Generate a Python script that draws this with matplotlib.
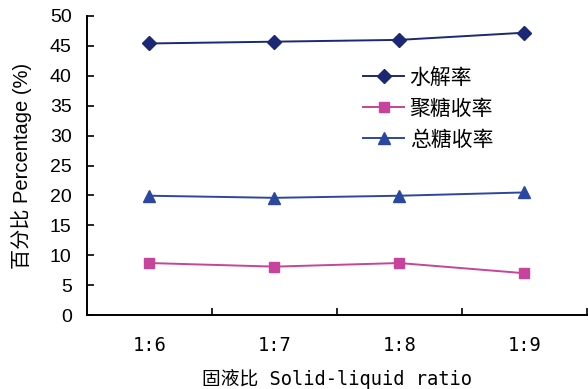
import matplotlib.pyplot as plt
import numpy as np

# 数据
categories = ['1:6', '1:7', '1:8', '1:9']
hydrolysis = [45.4, 45.7, 46.0, 47.2]
polysaccharide = [8.7, 8.1, 8.7, 7.0]
total_sugar = [19.95, 19.6, 19.95, 20.5]
series_names = ['水解率', '聚糖收率', '总糖收率']

cjk = 'Noto Sans CJK SC'
sans = ['Liberation Sans', cjk]
mono = ['DejaVu Sans Mono', cjk]

fig = plt.figure(figsize=(5.88, 3.89), dpi=100)
ax = fig.add_axes([0.148, 0.19, 0.85, 0.769])

x = np.arange(1, len(categories) + 1)
ax.plot(x, hydrolysis, color='#1c2873', marker='D', markersize=7, linewidth=1.4,
        label=series_names[0])
ax.plot(x, polysaccharide, color='#c6449b', marker='s', markersize=7, linewidth=1.4,
        label=series_names[1])
ax.plot(x, total_sugar, color='#2b47a0', marker='^', markersize=8, linewidth=1.4,
        label=series_names[2])

ax.set_xlim(0.5, len(categories) + 0.5)
ax.set_ylim(0, 50)
ax.set_yticks(np.arange(0, 51, 5))
ax.set_yticklabels([str(v) for v in range(0, 51, 5)], family=sans, fontsize=14)

# 刻度线在类别之间
ax.set_xticks(np.arange(1.5, len(categories) + 1, 1))
ax.set_xticklabels([])
ax.set_xticks(x, minor=True)
ax.set_xticklabels(categories, minor=True, family=mono, fontsize=13.5)
ax.tick_params(axis='x', which='minor', length=0, pad=15)
ax.tick_params(axis='x', which='major', direction='in', length=5, width=1.2)
ax.tick_params(axis='y', direction='in', length=5, width=1.2, pad=11)

for s in ['top', 'right']:
    ax.spines[s].set_visible(False)
for s in ['left', 'bottom']:
    ax.spines[s].set_linewidth(1.4)

ax.set_xlabel('固液比 Solid-liquid ratio', family=mono, fontsize=13.5, labelpad=10)
ax.set_ylabel('百分比 Percentage (%)', family=sans, fontsize=14.5, labelpad=13)

ax.legend(loc='upper left', bbox_to_anchor=(0.535, 0.855), frameon=False,
          prop={'family': sans, 'size': 15}, handlelength=2.0, labelspacing=0.55,
          handletextpad=0.25, borderaxespad=0)

fig.savefig('out.png', dpi=100)
